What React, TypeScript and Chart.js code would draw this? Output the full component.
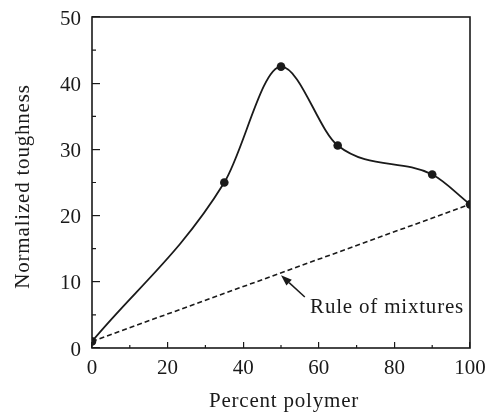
import React, { useEffect, useRef } from "react";
import { Chart, registerables } from "chart.js";

Chart.register(...registerables);

// ---- data ----
const percentPolymer = [0, 35, 50, 65, 90, 100];
const toughness = [1, 25, 42.5, 30.6, 26.2, 21.7];
const ruleX = [0, 100];
const ruleY = [1, 21.7];
const xMinorTicks = [10, 30, 50, 70, 90];
const yMinorTicks = [5, 15, 25, 35, 45];
const xTitle = "Percent polymer";
const yTitle = "Normalized toughness";
const annotationText = "Rule of mixtures";
const arrowTail = { x: 56.3, y: 7.7 };
const arrowTip = { x: 50, y: 11.0 };
const annotationPos = { x: 57.7, y: 5.3 };

const FONT = "'Liberation Serif', 'Times New Roman', serif";
const INK = "#1a1a1a";

const framePlugin = {
  id: "frameAndText",
  afterDraw(chart: any) {
    const { ctx, chartArea } = chart;
    const xs = chart.scales.x;
    const ys = chart.scales.y;
    ctx.save();
    // frame
    ctx.strokeStyle = INK;
    ctx.lineWidth = 1.6;
    ctx.strokeRect(chartArea.left, chartArea.top, chartArea.right - chartArea.left, chartArea.bottom - chartArea.top);
    // minor ticks
    ctx.lineWidth = 1.2;
    ctx.beginPath();
    for (const v of xMinorTicks) {
      const px = xs.getPixelForValue(v);
      ctx.moveTo(px, chartArea.bottom);
      ctx.lineTo(px, chartArea.bottom - 3);
    }
    for (const v of yMinorTicks) {
      const py = ys.getPixelForValue(v);
      ctx.moveTo(chartArea.left, py);
      ctx.lineTo(chartArea.left + 4, py);
    }
    ctx.stroke();

    // annotation arrow
    const tx = xs.getPixelForValue(arrowTail.x);
    const ty = ys.getPixelForValue(arrowTail.y);
    const hx = xs.getPixelForValue(arrowTip.x);
    const hy = ys.getPixelForValue(arrowTip.y);
    const ang = Math.atan2(hy - ty, hx - tx);
    const headLen = 11;
    const headW = 4;
    const bx = hx - headLen * Math.cos(ang);
    const by = hy - headLen * Math.sin(ang);
    ctx.lineWidth = 1.5;
    ctx.beginPath();
    ctx.moveTo(tx, ty);
    ctx.lineTo(bx, by);
    ctx.stroke();
    ctx.fillStyle = INK;
    ctx.beginPath();
    ctx.moveTo(hx, hy);
    ctx.lineTo(bx + headW * Math.sin(ang), by - headW * Math.cos(ang));
    ctx.lineTo(bx - headW * Math.sin(ang), by + headW * Math.cos(ang));
    ctx.closePath();
    ctx.fill();

    // texts
    (ctx as any).letterSpacing = "0.8px";
    ctx.font = `21px ${FONT}`;
    ctx.fillStyle = INK;
    ctx.textAlign = "left";
    ctx.textBaseline = "alphabetic";
    ctx.fillText(annotationText, xs.getPixelForValue(annotationPos.x), ys.getPixelForValue(annotationPos.y));

    ctx.textAlign = "center";
    ctx.fillText(xTitle, (chartArea.left + chartArea.right) / 2 + 3, chartArea.bottom + 59);

    ctx.translate(chartArea.left - 69, (chartArea.top + chartArea.bottom) / 2 + 4);
    ctx.rotate(-Math.PI / 2);
    ctx.textBaseline = "middle";
    ctx.fillText(yTitle, 0, 0);
    (ctx as any).letterSpacing = "0px";
    ctx.restore();
  },
};

export default function App() {
  const ref = useRef<HTMLCanvasElement | null>(null);
  useEffect(() => {
    document.body.style.margin = "0";
    const canvas = ref.current;
    if (!canvas) return;
    const chart = new Chart(canvas, {
      type: "line",
      data: {
        datasets: [
          {
            label: "Toughness",
            data: percentPolymer.map((x, i) => ({ x, y: toughness[i] })),
            borderColor: INK,
            backgroundColor: INK,
            borderWidth: 1.8,
            cubicInterpolationMode: "monotone",
            tension: 0.4,
            pointRadius: 4.3,
            pointHoverRadius: 4.3,
            pointBackgroundColor: INK,
            pointBorderWidth: 0,
            fill: false,
          },
          {
            label: "Rule of mixtures",
            data: ruleX.map((x, i) => ({ x, y: ruleY[i] })),
            borderColor: INK,
            borderWidth: 1.6,
            borderDash: [5, 3],
            pointRadius: 0,
            tension: 0,
            fill: false,
          },
        ],
      },
      options: {
        responsive: false,
        animation: false,
        devicePixelRatio: 1,
        layout: { padding: { top: 17, right: 23, left: 0, bottom: 0 } },
        plugins: { legend: { display: false }, tooltip: { enabled: false } },
        scales: {
          x: {
            type: "linear",
            min: 0,
            max: 100,
            border: { display: false },
            grid: { drawOnChartArea: false, drawTicks: true, tickLength: -6, color: INK, lineWidth: 1.2 },
            ticks: { stepSize: 20, color: INK, font: { family: FONT, size: 21 }, padding: 14, maxRotation: 0 },
            afterFit: (s: any) => {
              s.height = 64;
              s.paddingLeft = 0;
              s.paddingRight = 0;
            },
          },
          y: {
            type: "linear",
            min: 0,
            max: 50,
            border: { display: false },
            grid: { drawOnChartArea: false, drawTicks: true, tickLength: -8, color: INK, lineWidth: 1.2 },
            ticks: { stepSize: 10, color: INK, font: { family: FONT, size: 21 }, padding: 19, labelOffset: 2 },
            afterFit: (s: any) => {
              s.width = 92;
              s.paddingTop = 0;
              s.paddingBottom = 0;
            },
          },
        },
      },
      plugins: [framePlugin],
    } as any);
    return () => chart.destroy();
  }, []);
  return <canvas ref={ref} width={493} height={412} style={{ display: "block" }} />;
}
